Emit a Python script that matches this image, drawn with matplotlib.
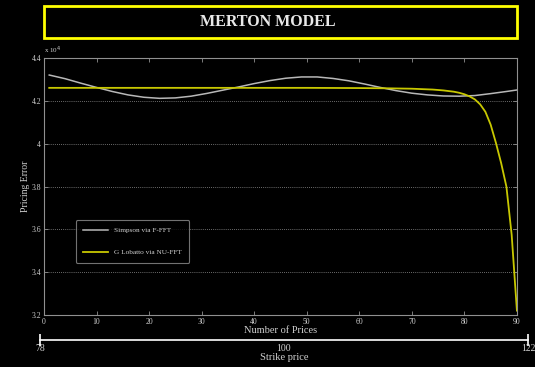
import matplotlib.pyplot as plt
from matplotlib.patches import Rectangle

plt.rcParams['font.family'] = ['Liberation Serif', 'DejaVu Serif']

# Simpson via F-FFT pricing error
simpson_n = [1, 4, 7, 10, 13, 16, 19, 22, 25, 28, 31, 34, 37, 40, 43, 46,
             49, 52, 55, 58, 61, 64, 67, 70, 73, 76, 79, 82, 85, 88, 90]
simpson_err = [4.322, 4.305, 4.284, 4.264, 4.245, 4.229, 4.218, 4.213, 4.215,
               4.223, 4.236, 4.251, 4.266, 4.282, 4.296, 4.307, 4.313, 4.313,
               4.306, 4.295, 4.280, 4.264, 4.249, 4.237, 4.229, 4.224, 4.223,
               4.226, 4.235, 4.245, 4.252]

# G Lobatto via NU-FFT pricing error
lobatto_n = [1, 10, 20, 30, 40, 50, 60, 65, 70, 74, 76, 78, 79, 80, 81, 82,
             83, 84, 85, 86, 87, 88, 89, 90]
lobatto_err = [4.262, 4.262, 4.262, 4.262, 4.262, 4.262, 4.261, 4.260, 4.258,
               4.254, 4.250, 4.244, 4.239, 4.232, 4.222, 4.208, 4.185, 4.150,
               4.090, 4.005, 3.910, 3.800, 3.575, 3.220]

strike_ticks = [78, 100, 122]

fg = '#d0d0d0'
fig = plt.figure(figsize=(5.35, 3.67), dpi=100, facecolor='black')

# title box
fig.patches.append(Rectangle((0.083, 0.897), 0.883, 0.088, transform=fig.transFigure,
                             fill=False, edgecolor='#ffff00', linewidth=2))
fig.text(0.5, 0.941, 'MERTON MODEL', color='#e8e8e8', fontsize=11.5,
         fontweight='bold', ha='center', va='center')

ax = fig.add_axes([0.0822, 0.142, 0.884, 0.699])
ax.set_facecolor('black')
ax.plot(simpson_n, simpson_err, color='#b8b8b8', lw=1.1, label='Simpson via F-FFT')
ax.plot(lobatto_n, lobatto_err, color='#c8c800', lw=1.3, label='G Lobatto via NU-FFT')
ax.set_xlim(0, 90)
ax.set_ylim(3.2, 4.4)
ax.set_xticks(range(0, 91, 10))
ax.set_yticks([3.2, 3.4, 3.6, 3.8, 4.0, 4.2, 4.4])
ax.set_yticklabels(['3.2', '3.4', '3.6', '3.8', '4', '4.2', '4.4'])
ax.yaxis.grid(True, linestyle=(0, (1, 1.5)), color='#909090', lw=0.6)
for s in ax.spines.values():
    s.set_color('#909090')
    s.set_linewidth(0.8)
ax.tick_params(direction='in', length=3, width=0.6, color='#909090',
               labelcolor=fg, labelsize=5.5, top=True, right=True, pad=2)
ax.set_xlabel('Number of Prices', color=fg, fontsize=7.5, labelpad=0)
ax.set_ylabel('Pricing Error', color=fg, fontsize=7, labelpad=1)
ax.text(0.0, 1.01, r'x 10$^{4}$', transform=ax.transAxes, color=fg, fontsize=5,
        ha='left', va='bottom')
leg = ax.legend(loc='lower left', bbox_to_anchor=(0.06, 0.19), fontsize=5.2,
                frameon=True, facecolor='black', edgecolor='#909090',
                labelcolor=fg, handlelength=3.5, borderpad=1.0, labelspacing=2.2)
leg.get_frame().set_linewidth(0.8)

# strike price axis under the chart
ax2 = fig.add_axes([0.0748, 0.063, 0.912, 0.02])
ax2.set_facecolor('none')
ax2.plot([strike_ticks[0], strike_ticks[-1]], [0, 0], color='white', lw=1.2,
         marker='|', markersize=9, markeredgewidth=1.2, clip_on=False)
ax2.set_xlim(strike_ticks[0], strike_ticks[-1])
ax2.set_ylim(-1, 1)
for s in ax2.spines.values():
    s.set_visible(False)
ax2.set_yticks([])
ax2.set_xticks(strike_ticks)
ax2.tick_params(length=0, labelcolor=fg, labelsize=7, pad=0)
ax2.set_xlabel('Strike price', color=fg, fontsize=7.5, labelpad=0)

fig.savefig('out.png', dpi=100, facecolor='black')
